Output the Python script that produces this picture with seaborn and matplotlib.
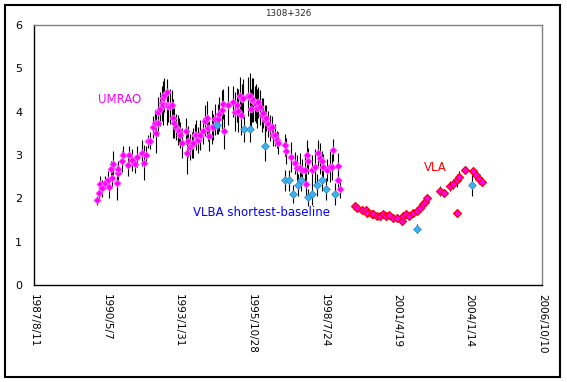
import numpy as np
import pandas as pd
import matplotlib
matplotlib.use("Agg")
import matplotlib.pyplot as plt
import seaborn as sns
from matplotlib.patches import Rectangle

# UMRAO (decimal year, flux, error)
umrao_year = [1989.98, 1990.06, 1990.10, 1990.16, 1990.29, 1990.39, 1990.44, 1990.50, 1990.54, 1990.58,
              1990.73, 1990.77, 1990.79, 1990.92, 1990.98, 1991.17, 1991.19, 1991.30, 1991.42, 1991.48,
              1991.67, 1991.76, 1991.84, 1991.92, 1991.99, 1992.11, 1992.17, 1992.21, 1992.28, 1992.30,
              1992.36, 1992.43, 1992.47, 1992.49, 1992.53, 1992.62, 1992.64, 1992.68, 1992.74, 1992.80,
              1992.84, 1992.89, 1992.97, 1993.02, 1993.09, 1993.12, 1993.18, 1993.34, 1993.39, 1993.43,
              1993.49, 1993.56, 1993.62, 1993.68, 1993.72, 1993.81, 1993.85, 1993.87, 1994.00, 1994.06,
              1994.15, 1994.17, 1994.22, 1994.31, 1994.35, 1994.44, 1994.56, 1994.60, 1994.69, 1994.73,
              1994.79, 1994.94, 1995.13, 1995.19, 1995.26, 1995.32, 1995.38, 1995.41, 1995.45, 1995.51,
              1995.69, 1995.76, 1995.78, 1995.82, 1995.88, 1995.95, 1995.98, 1996.01, 1996.07, 1996.14,
              1996.20, 1996.24, 1996.32, 1996.36, 1996.45, 1996.51, 1996.58, 1996.64, 1996.70, 1996.77,
              1996.83, 1997.08, 1997.12, 1997.29, 1997.46, 1997.52, 1997.64, 1997.71, 1997.83, 1997.87,
              1997.90, 1997.96, 1998.09, 1998.21, 1998.31, 1998.40, 1998.46, 1998.52, 1998.65, 1998.78,
              1998.84, 1998.88, 1999.07, 1999.09, 1999.15]
umrao_flux = [1.95, 2.13, 2.32, 2.23, 2.36, 2.42, 2.25, 2.67, 2.46, 2.79,
              2.35, 2.58, 2.67, 2.85, 3.00, 2.77, 3.00, 2.88, 2.78, 2.96,
              3.05, 2.82, 3.00, 3.31, 3.33, 3.65, 3.73, 3.50, 3.73, 3.98,
              4.06, 4.19, 4.31, 4.15, 4.38, 4.46, 4.15, 4.12, 4.12, 4.15,
              3.85, 3.73, 3.65, 3.58, 3.56, 3.46, 3.27, 3.56, 3.05, 3.31,
              3.19, 3.23, 3.28, 3.46, 3.46, 3.35, 3.44, 3.46, 3.56, 3.79,
              3.85, 3.62, 3.44, 3.64, 3.65, 3.82, 3.83, 3.94, 4.04, 4.18,
              3.54, 4.15, 4.23, 4.00, 4.15, 4.02, 4.35, 3.92, 4.29, 4.31,
              4.35, 4.35, 4.06, 4.27, 4.27, 4.19, 4.18, 4.08, 4.21, 4.10,
              3.92, 3.96, 3.81, 3.85, 3.72, 3.62, 3.65, 3.46, 3.46, 3.35,
              3.28, 3.23, 3.10, 2.95, 2.81, 2.69, 2.69, 2.65, 2.65, 2.32,
              3.00, 2.87, 2.65, 2.73, 3.05, 2.92, 2.85, 2.73, 2.65, 2.73,
              2.73, 3.12, 2.75, 2.41, 2.21]
umrao_err = [0.1, 0.15, 0.2, 0.2, 0.15, 0.2, 0.25, 0.2, 0.2, 0.3,
             0.4, 0.25, 0.2, 0.25, 0.2, 0.25, 0.2, 0.25, 0.2, 0.25,
             0.3, 0.4, 0.2, 0.15, 0.2, 0.25, 0.3, 0.45, 0.3, 0.35,
             0.4, 0.4, 0.4, 0.45, 0.4, 0.3, 0.45, 0.35, 0.4, 0.35,
             0.45, 0.35, 0.3, 0.35, 0.3, 0.3, 0.35, 0.3, 0.5, 0.35,
             0.3, 0.3, 0.35, 0.25, 0.35, 0.3, 0.3, 0.35, 0.3, 0.35,
             0.4, 0.3, 0.35, 0.4, 0.3, 0.35, 0.35, 0.4, 0.45, 0.35,
             0.4, 0.45, 0.35, 0.45, 0.4, 0.5, 0.45, 0.45, 0.35, 0.45,
             0.45, 0.55, 0.45, 0.5, 0.5, 0.4, 0.45, 0.45, 0.35, 0.4,
             0.4, 0.35, 0.35, 0.3, 0.3, 0.3, 0.25, 0.25, 0.25, 0.2,
             0.25, 0.25, 0.3, 0.35, 0.25, 0.3, 0.35, 0.25, 0.35, 0.3,
             0.35, 0.3, 0.35, 0.4, 0.3, 0.35, 0.25, 0.3, 0.25, 0.35,
             0.3, 0.25, 0.3, 0.2, 0.2]

# VLBA shortest-baseline
vlba_year = [1994.50, 1995.54, 1995.76, 1996.32, 1997.08, 1997.24, 1997.37, 1997.57, 1997.68,
             1997.96, 1998.08, 1998.30, 1998.46, 1998.62, 1998.96, 2002.05, 2004.12]
vlba_flux = [3.69, 3.60, 3.60, 3.21, 2.41, 2.41, 2.10, 2.31, 2.41,
             2.02, 2.10, 2.31, 2.41, 2.21, 2.10, 1.30, 2.31]
vlba_err = [0.2, 0.3, 0.3, 0.35, 0.25, 0.25, 0.2, 0.25, 0.25,
            0.2, 0.25, 0.25, 0.25, 0.25, 0.25, 0.1, 0.25]

# VLA
vla_year = [1999.72, 1999.81, 1999.97, 2000.13, 2000.16, 2000.35, 2000.41, 2000.54, 2000.66, 2000.79,
            2000.89, 2001.01, 2001.14, 2001.29, 2001.48, 2001.54, 2001.64, 2001.77, 2001.92, 2002.07,
            2002.17, 2002.29, 2002.36, 2002.45, 2002.92, 2003.09, 2003.30, 2003.43, 2003.55, 2003.64,
            2003.55, 2003.87, 2004.18, 2004.28, 2004.41, 2004.50]
vla_flux = [1.81, 1.77, 1.72, 1.73, 1.67, 1.63, 1.64, 1.58, 1.59, 1.63,
            1.58, 1.61, 1.54, 1.55, 1.48, 1.59, 1.63, 1.58, 1.65, 1.71,
            1.77, 1.87, 1.92, 2.00, 2.17, 2.12, 2.28, 2.33, 2.42, 2.50,
            1.65, 2.65, 2.62, 2.54, 2.44, 2.38]
vla_err = [0.05, 0.05, 0.05, 0.05, 0.05, 0.05, 0.05, 0.05, 0.05, 0.05,
           0.05, 0.05, 0.05, 0.05, 0.05, 0.05, 0.05, 0.05, 0.05, 0.06,
           0.06, 0.07, 0.07, 0.08, 0.12, 0.1, 0.12, 0.12, 0.15, 0.12,
           0.05, 0.1, 0.1, 0.1, 0.1, 0.1]

start_date = pd.Timestamp("1987-08-11")
end_date = pd.Timestamp("2006-10-10")


def yr2date(y):
    y = np.asarray(y, dtype=float)
    return [pd.Timestamp(int(v), 1, 1) + pd.Timedelta(days=(v - int(v)) * 365.25) for v in y]


umrao = pd.DataFrame({"date": yr2date(umrao_year), "flux": umrao_flux, "err": umrao_err})
vlba = pd.DataFrame({"date": yr2date(vlba_year), "flux": vlba_flux, "err": vlba_err})
vla = pd.DataFrame({"date": yr2date(vla_year), "flux": vla_flux, "err": vla_err})

sns.set_style("white")
plt.rcParams["font.family"] = ["DejaVu Sans"]

fig = plt.figure(figsize=(5.67, 3.82), dpi=100)
ax = fig.add_axes([0.060, 0.254, 0.896, 0.681])

# error bars
for df in (umrao, vlba, vla):
    ax.errorbar(df["date"], df["flux"], yerr=df["err"], fmt="none",
                ecolor="black", elinewidth=0.8, capsize=0, zorder=1)

sns.scatterplot(data=umrao, x="date", y="flux", ax=ax, marker="D", s=14,
                color="#FF00FF", edgecolor="#FF77FF", linewidth=0.5, zorder=3)
sns.scatterplot(data=vlba, x="date", y="flux", ax=ax, marker="D", s=16,
                color="#3FB0E8", edgecolor="#2A86D0", linewidth=0.5, zorder=4)
sns.scatterplot(data=vla, x="date", y="flux", ax=ax, marker="D", s=16,
                color="#FF00FF", edgecolor="#FF0000", linewidth=0.9, zorder=3)

ax.set_xlim(start_date, end_date)
ax.set_ylim(0, 6)
ticks = [start_date + pd.Timedelta(days=1000 * k) for k in range(8)]
ax.set_xticks(ticks)
ax.set_xticklabels([f"{d.year}/{d.month}/{d.day}" for d in ticks],
                   rotation=-90, ha="center", va="top")
ax.set_yticks(range(7))
ax.tick_params(axis="both", direction="in", length=3, width=1, colors="black",
               labelsize=7.5)
ax.tick_params(axis="y", pad=8.5, labelsize=8)
ax.tick_params(axis="x", pad=6.5)
ax.set_xlabel("")
ax.set_ylabel("")

for side in ("left", "bottom"):
    ax.spines[side].set_color("black")
    ax.spines[side].set_linewidth(1)
for side in ("top", "right"):
    ax.spines[side].set_color("#808080")
    ax.spines[side].set_linewidth(1)

ax.set_title("1308+326", fontsize=6.3, pad=6)

ax.text(yr2date([1990.02])[0], 4.27, "UMRAO", color="#FF00FF", fontsize=8.5,
        va="center", ha="left")
ax.text(yr2date([1993.61])[0], 1.66, "VLBA shortest-baseline", color="#0000FF",
        fontsize=8.5, va="center", ha="left")
ax.text(yr2date([2002.32])[0], 2.70, "VLA", color="#FF0000", fontsize=8.5,
        va="center", ha="left")

fig.patches.append(Rectangle((5 / 567, 5 / 382), 555 / 567, 372 / 382,
                             transform=fig.transFigure, fill=False,
                             edgecolor="black", linewidth=1.5))

fig.savefig("out.png", dpi=100)
